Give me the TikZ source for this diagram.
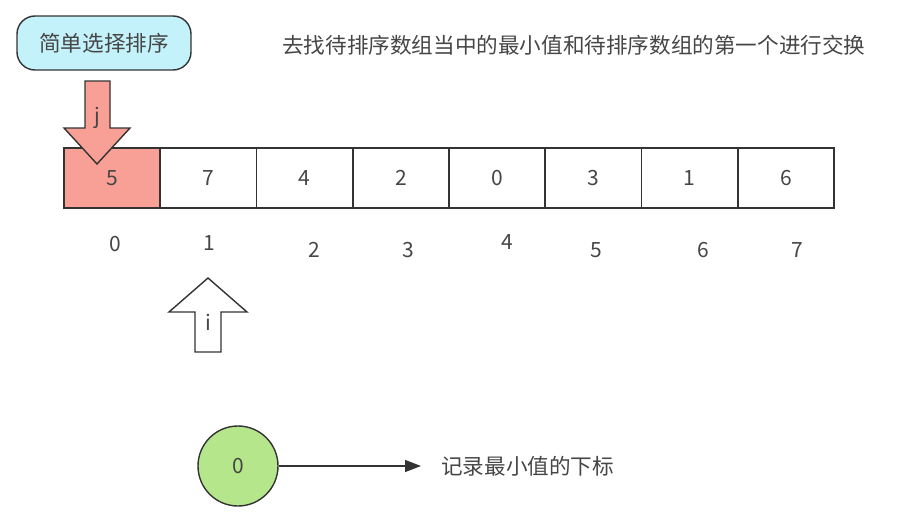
\documentclass[tikz,border=0pt]{standalone}
\usepackage{fontspec}
\setmainfont{Noto Sans CJK SC}
\usepackage{tikz}
\usetikzlibrary{positioning, arrows.meta}
\usepackage{xcolor}
\definecolor{cellred}{RGB}{248, 160, 150}
\definecolor{titlecyan}{RGB}{196, 242, 251}
\definecolor{mingreen}{RGB}{182, 230, 140}
\definecolor{inkgray}{RGB}{51, 51, 51}
\definecolor{textgray}{RGB}{70, 70, 70}

\begin{document}
\begin{tikzpicture}[x=1pt, y=-1pt, >=Stealth,
    every node/.style={text=textgray, font=\fontsize{21}{24}\selectfont},
    cjk/.style={font=\fontsize{21.6}{25}\selectfont},
    cell/.style={rectangle, draw=inkgray, line width=1.6pt,
      minimum width=96.25pt, minimum height=60pt, inner sep=0pt},
    title/.style={rectangle, rounded corners=18pt, draw=inkgray, line width=1.4pt,
      fill=titlecyan, minimum width=174pt, minimum height=54pt},
    pointer/.style={draw=inkgray, line width=1.4pt, line join=miter}]
  \useasboundingbox (0,0) rectangle (910,530);
  % title and description
  \node[title, cjk] (name) at (104,43) {简单选择排序};
  \node[cjk, anchor=west, inner sep=0pt] (desc) at (282,45)
    {去找待排序数组当中的最小值和待排序数组的第一个进行交换};
  % the array
  \foreach \v/\f [count=\k from 0] in {5/cellred,7/white,4/white,2/white,
                                      0/white,3/white,1/white,6/white}
    \node[cell, fill=\f] (c\k) at (112.125+96.25*\k,178) {\v};
  % indices under the array
  \foreach \k/\x/\y in {0/115/244, 1/209/243, 2/314/250, 3/408/250,
                        4/507/242, 5/596/250, 6/703/250, 7/797/250}
    \node (idx\k) at (\x,\y) {\k};
  % pointer j (down)
  \draw[pointer, fill=cellred] (85,81) -- (110,81) -- (110,128) -- (130,128)
    -- (97,164) -- (64,128) -- (85,128) -- cycle;
  \node (j) at (97,118) {j};
  % pointer i (up)
  \draw[pointer, fill=white] (195,352) -- (221,352) -- (221,312) -- (247,312)
    -- (208,278) -- (169,312) -- (195,312) -- cycle;
  \node (i) at (208,322) {i};
  % index of the minimum
  \node[circle, draw=inkgray, line width=1.4pt, fill=mingreen,
    minimum size=80pt] (minidx) at (238,466) {0};
  \node[cjk, anchor=west, inner sep=0pt] (note) at (441,466) {记录最小值的下标};
  \coordinate (tip) at (421,466);
  \draw[inkgray, line width=1.4pt, -{Triangle[length=16pt, width=12pt]}]
    (minidx) -- (tip);
\end{tikzpicture}
\end{document}
